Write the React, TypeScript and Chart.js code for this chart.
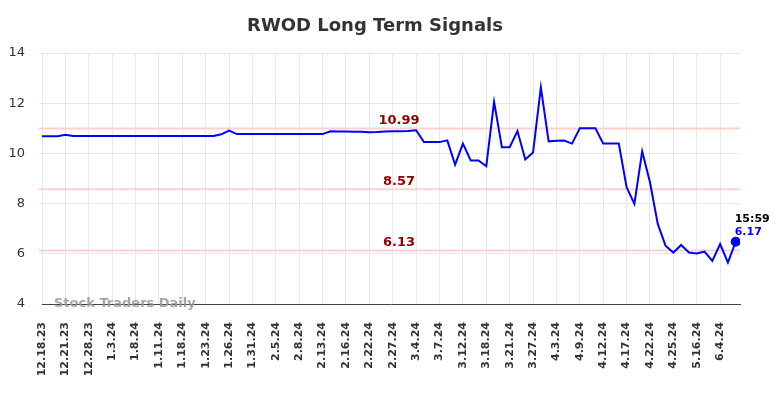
import React, { useEffect, useRef } from "react";
import { Chart, registerables } from "chart.js";

Chart.register(...registerables);

const dateLabels = [
  "12.18.23", "12.21.23", "12.28.23", "1.3.24", "1.8.24", "1.11.24", "1.18.24", "1.23.24",
  "1.26.24", "1.31.24", "2.5.24", "2.8.24", "2.13.24", "2.16.24", "2.22.24", "2.27.24",
  "3.4.24", "3.7.24", "3.12.24", "3.18.24", "3.21.24", "3.27.24", "4.3.24", "4.9.24",
  "4.12.24", "4.17.24", "4.22.24", "4.25.24", "5.16.24", "6.4.24",
];

const prices = [
  10.68, 10.68, 10.68, 10.74, 10.69, 10.69, 10.69, 10.69, 10.69, 10.69,
  10.69, 10.69, 10.69, 10.69, 10.69, 10.69, 10.69, 10.69, 10.69, 10.69,
  10.69, 10.69, 10.69, 10.76, 10.91, 10.77, 10.77, 10.77, 10.77, 10.77,
  10.77, 10.77, 10.77, 10.77, 10.77, 10.77, 10.77, 10.88, 10.87, 10.87,
  10.86, 10.86, 10.84, 10.85, 10.87, 10.88, 10.88, 10.89, 10.92, 10.45,
  10.45, 10.45, 10.52, 9.55, 10.39, 9.72, 9.72, 9.49, 12.05, 10.25,
  10.25, 10.89, 9.76, 10.04, 12.63, 10.48, 10.5, 10.51, 10.39, 11.0,
  11.0, 11.0, 10.39, 10.39, 10.39, 8.65, 7.99, 10.08, 8.85, 7.19,
  6.32, 6.05, 6.35, 6.05, 6.01, 6.09, 5.72, 6.39, 5.65, 6.48,
];

const signalLevels = [10.99, 8.57, 6.13];
const signalTexts = ["10.99", "8.57", "6.13"];
const lastTime = "15:59";
const lastText = "6.17";
const titleText = "RWOD Long Term Signals";
const watermark = "Stock Traders Daily";

const FONT = '"DejaVu Sans", sans-serif';

export default function App() {
  const ref = useRef<HTMLCanvasElement>(null);

  useEffect(() => {
    const canvas = ref.current;
    if (!canvas) return;
    const points = prices.map((y, i) => ({ x: i, y }));

    const levelsPlugin = {
      id: "levels",
      beforeDatasetsDraw(chart: any) {
        const { ctx, chartArea, scales } = chart;
        ctx.save();
        ctx.strokeStyle = "#ffd0d0";
        ctx.lineWidth = 2;
        signalLevels.forEach((lv) => {
          const y = scales.y.getPixelForValue(lv);
          ctx.beginPath();
          ctx.moveTo(chartArea.left - 3, y);
          ctx.lineTo(chartArea.right, y);
          ctx.stroke();
        });
        ctx.fillStyle = "#8b0000";
        ctx.font = `bold 13px ${FONT}`;
        ctx.textAlign = "center";
        ctx.textBaseline = "middle";
        signalLevels.forEach((lv, i) => {
          const y = scales.y.getPixelForValue(lv);
          ctx.fillText(signalTexts[i], 391, y - 8);
        });
        ctx.restore();
      },
      afterDraw(chart: any) {
        const { ctx, scales } = chart;
        ctx.save();
        ctx.fillStyle = "#333333";
        ctx.font = `bold 18px ${FONT}`;
        ctx.textAlign = "center";
        ctx.textBaseline = "middle";
        ctx.fillText(titleText, 367, 18);

        ctx.fillStyle = "rgba(150,150,150,0.85)";
        ctx.font = `bold 13px ${FONT}`;
        ctx.textAlign = "left";
        ctx.fillText(watermark, 46, scales.y.getPixelForValue(4));

        const li = prices.length - 1;
        const px = scales.x.getPixelForValue(li);
        const py = scales.y.getPixelForValue(prices[li]);
        ctx.font = `bold 11px ${FONT}`;
        ctx.fillStyle = "#000000";
        ctx.fillText(lastTime, px - 1, py - 23);
        ctx.fillStyle = "#0000ff";
        ctx.fillText(lastText, px - 1, py - 10);
        ctx.restore();
      },
    };

    const chart = new Chart(canvas, {
      type: "line",
      data: {
        datasets: [
          {
            data: points,
            borderColor: "#0000ff",
            backgroundColor: "#0000ff",
            borderWidth: 2,
            tension: 0,
            pointRadius: points.map((_, i) => (i === points.length - 1 ? 4 : 0)),
            pointHoverRadius: 0,
          },
        ],
      },
      options: {
        animation: false,
        responsive: false,
        layout: { padding: { top: 45, right: 36, left: 0, bottom: 0 } },
        plugins: { legend: { display: false }, tooltip: { enabled: false }, title: { display: false } },
        scales: {
          x: {
            type: "linear",
            min: 0,
            max: 89.55,
            afterFit: (s: any) => {
              s.height = 86;
            },
            border: { display: true, color: "#444444", width: 1 },
            grid: { color: "#e8e8e8", drawTicks: false },
            ticks: {
              stepSize: 3,
              includeBounds: false,
              autoSkip: false,
              maxRotation: 90,
              minRotation: 90,
              padding: 18,
              color: "#333333",
              font: { family: FONT, size: 11, weight: "bold" },
              callback: (v: any) => {
                const k = Math.round(Number(v) / 3);
                return dateLabels[k] ?? "";
              },
            },
          },
          y: {
            min: 4,
            max: 14,
            afterFit: (s: any) => {
              s.width = 34;
            },
            border: { display: false },
            grid: { color: "#e8e8e8", tickLength: 3 },
            ticks: {
              stepSize: 2,
              padding: 14,
              color: "#333333",
              font: { family: FONT, size: 13 },
            },
          },
        },
      },
      plugins: [levelsPlugin],
    } as any);
    return () => chart.destroy();
  }, []);

  return (
    <div style={{ width: 768, height: 382 }}>
      <canvas ref={ref} width={768} height={382} style={{ display: "block" }} />
    </div>
  );
}
